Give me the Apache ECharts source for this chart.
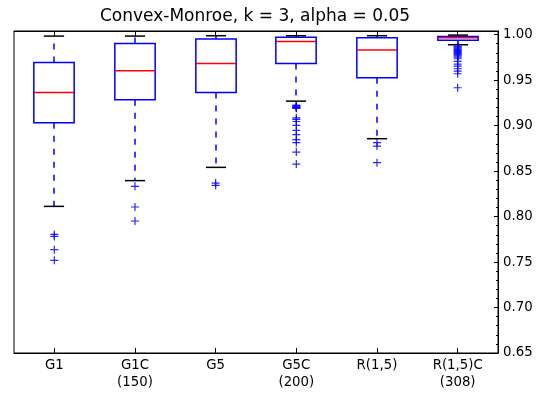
<!DOCTYPE html>
<html>
<head>
<meta charset="utf-8">
<script src="https://cdn.jsdelivr.net/npm/echarts@6/dist/echarts.min.js"></script>
<style>
  html, body { margin: 0; padding: 0; background: #fff; }
  #chart { width: 547px; height: 394px; }
</style>
</head>
<body>
<div id="chart"></div>
<script>
// ---- data ----
const titleText = 'Convex-Monroe, k = 3, alpha = 0.05';
const categories = ['G1', 'G1C\n(150)', 'G5', 'G5C\n(200)', 'R(1,5)', 'R(1,5)C\n(308)'];
const whiskerLow  = [0.8112, 0.8395, 0.8541, 0.9269, 0.8856, 0.9889];
const q1          = [0.9032, 0.9285, 0.9365, 0.9684, 0.9526, 0.9937];
const median      = [0.9365, 0.9603, 0.9684, 0.9925, 0.9830, 0.9965];
const q3          = [0.9695, 0.9903, 0.9951, 0.9970, 0.9966, 0.9980];
const whiskerHigh = [0.9984, 0.9984, 0.9988, 0.9988, 0.9988, 0.9995];
const outG1   = [0.7804, 0.7782, 0.7636, 0.7519];
const outG1C  = [0.8332, 0.8105, 0.7951];
const outG5   = [0.8368, 0.8343];
const outG5C  = [0.9225, 0.9218, 0.9212, 0.9206, 0.9200, 0.9195, 0.9190, 0.9085, 0.9068, 0.9045,
                 0.9002, 0.8947, 0.8900, 0.8845, 0.8812, 0.8709, 0.8577];
const outR15  = [0.8812, 0.8775, 0.8592];
const outR15C = [0.9874, 0.9865, 0.9855, 0.9845, 0.9835, 0.9825, 0.9815, 0.9805, 0.9795, 0.9785,
                 0.9775, 0.9765, 0.9753, 0.9735, 0.9705, 0.9676, 0.9654, 0.9625, 0.9599, 0.9570, 0.9416];
const yTicks = [0.65, 0.70, 0.75, 0.80, 0.85, 0.90, 0.95, 1.00];

// ---- build ----
const outliers = [outG1, outG1C, outG5, outG5C, outR15, outR15C];
const boxData = categories.map((c, i) => [i, whiskerLow[i], q1[i], median[i], q3[i], whiskerHigh[i]]);
const outData = [];
outliers.forEach((arr, i) => arr.forEach(v => outData.push([i, v])));

const FONT = 'DejaVu Sans';
const BLUE = '#0000ff';
const LW = 1.5;

function renderBox(params, api) {
  const i = api.value(0);
  const pLo = api.coord([i, api.value(1)]);
  const pQ1 = api.coord([i, api.value(2)]);
  const pMed = api.coord([i, api.value(3)]);
  const pQ3 = api.coord([i, api.value(4)]);
  const pHi = api.coord([i, api.value(5)]);
  const bw = api.size([1, 0])[0];
  const x = Math.round(pLo[0]);
  const hb = bw * 0.25, hc = bw * 0.125;
  const dash = { stroke: BLUE, lineWidth: LW, lineDash: [6, 7] };
  const cap = { stroke: '#000', lineWidth: LW };
  return {
    type: 'group',
    children: [
      { type: 'line', shape: { x1: x, y1: pQ1[1], x2: x, y2: pLo[1] }, style: dash },
      { type: 'line', shape: { x1: x, y1: pQ3[1], x2: x, y2: pHi[1] }, style: dash },
      { type: 'rect', shape: { x: x - hb, y: pQ3[1], width: 2 * hb, height: pQ1[1] - pQ3[1] },
        style: { fill: 'none', stroke: BLUE, lineWidth: LW } },
      { type: 'line', shape: { x1: x - hc, y1: pLo[1], x2: x + hc, y2: pLo[1] }, style: cap },
      { type: 'line', shape: { x1: x - hc, y1: pHi[1], x2: x + hc, y2: pHi[1] }, style: cap },
      { type: 'line', shape: { x1: x - hb, y1: pMed[1], x2: x + hb, y2: pMed[1] },
        style: { stroke: '#ff0000', lineWidth: LW } }
    ]
  };
}

const chart = echarts.init(document.getElementById('chart'), null, { renderer: 'canvas' });
chart.setOption({
  animation: false,
  backgroundColor: '#fff',
  graphic: [{
    type: 'text', x: 255, y: 17,
    style: { text: titleText, font: '17px "DejaVu Sans"', fill: '#000',
             textAlign: 'center', textVerticalAlign: 'middle', verticalAlign: 'middle' }
  }],
  grid: { left: 14, right: 49, top: 31, bottom: 41, show: true, borderColor: '#000', borderWidth: 1,
          backgroundColor: 'transparent' },
  xAxis: [{
    type: 'category', data: categories, position: 'bottom', boundaryGap: true,
    axisLine: { show: true, lineStyle: { color: '#000', width: 1 } },
    axisTick: { show: true, inside: true, alignWithLabel: true, length: 5, lineStyle: { color: '#000' } },
    axisLabel: { color: '#000', fontFamily: FONT, fontSize: 13.3, lineHeight: 17, margin: 4, interval: 0 },
    splitLine: { show: false }
  }, {
    type: 'category', data: categories, position: 'top', boundaryGap: true,
    axisLine: { show: true, lineStyle: { color: '#000', width: 1 } },
    axisTick: { show: true, inside: true, alignWithLabel: true, length: 5, lineStyle: { color: '#000' } },
    axisLabel: { show: false }, splitLine: { show: false }
  }],
  yAxis: {
    type: 'value', position: 'right', min: 0.65, max: 1.004, interval: 0.05,
    axisLine: { show: true, lineStyle: { color: '#000', width: 1 } },
    axisTick: { show: true, inside: true, length: 4, lineStyle: { color: '#000' } },
    minorTick: { show: true, splitNumber: 5, length: 2, lineStyle: { color: '#000' } },
    axisLabel: {
      color: '#000', fontFamily: FONT, fontSize: 13.3, margin: 5,
      formatter: v => {
        for (const t of yTicks) if (Math.abs(v - t) < 1e-6) return t.toFixed(2);
        return '';
      }
    },
    splitLine: { show: false }, minorSplitLine: { show: false }
  },
  series: [{
    type: 'custom', xAxisIndex: 0, renderItem: renderBox, data: boxData,
    encode: { x: 0, y: [1, 2, 3, 4, 5] }, z: 2
  }, {
    type: 'scatter', xAxisIndex: 0, data: outData, symbol: 'path://M0,5L10,5M5,0L5,10', symbolSize: 8,
    itemStyle: { color: 'rgba(0,0,0,0)', borderColor: BLUE, borderWidth: 1.2, opacity: 0.85 },
    z: 3
  }]
});
</script>
</body>
</html>
